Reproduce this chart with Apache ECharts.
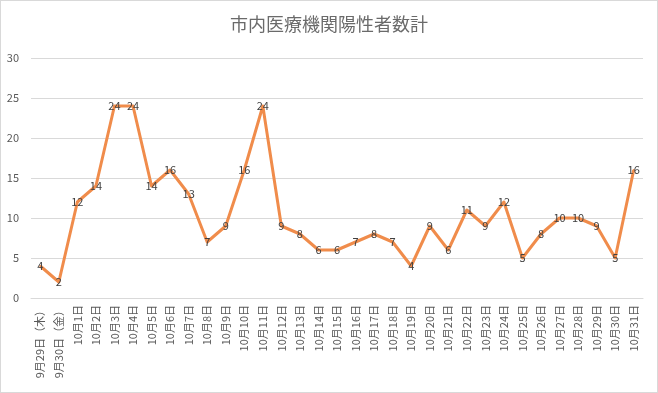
<!DOCTYPE html>
<html>
<head>
<meta charset="utf-8">
<script src="https://cdn.jsdelivr.net/npm/echarts@6/dist/echarts.min.js"></script>
<style>
html,body{margin:0;padding:0;background:#fff;}
#c{width:656px;height:391px;border:1px solid #d9d9d9;}
</style>
</head>
<body>
<div id="c"></div>
<script>
const titleText = '市内医療機関陽性者数計';
const categories = ['9月29日（木）','9月30日（金）','10月1日','10月2日','10月3日','10月4日','10月5日','10月6日','10月7日','10月8日','10月9日','10月10日','10月11日','10月12日','10月13日','10月14日','10月15日','10月16日','10月17日','10月18日','10月19日','10月20日','10月21日','10月22日','10月23日','10月24日','10月25日','10月26日','10月27日','10月28日','10月29日','10月30日','10月31日'];
const values = [4,2,12,14,24,24,14,16,13,7,9,16,24,9,8,6,6,7,8,7,4,9,6,11,9,12,5,8,10,10,9,5,16];
const yTicks = [0,5,10,15,20,25,30];

const chart = echarts.init(document.getElementById('c'));
chart.setOption({
  animation:false,
  textStyle:{fontFamily:'"Noto Sans CJK JP", sans-serif'},
  title:{text:titleText,left:'center',top:9,textStyle:{fontSize:18,fontWeight:'normal',color:'#6a6a6a',fontFamily:'"Noto Sans CJK JP", sans-serif'}},
  grid:{left:30,right:14,top:57,bottom:94,containLabel:false},
  xAxis:{type:'category',data:categories,boundaryGap:true,
    axisLine:{lineStyle:{color:'#d9d9d9'}},axisTick:{show:false},
    axisLabel:{rotate:90,interval:0,fontSize:11,color:'#595959',margin:7}},
  yAxis:{type:'value',min:yTicks[0],max:yTicks[yTicks.length-1],interval:5,
    axisLine:{show:false},axisTick:{show:false},
    axisLabel:{fontSize:11,color:'#595959',margin:12},
    splitLine:{lineStyle:{color:'#d9d9d9'}}},
  series:[{type:'line',data:values,symbol:'circle',symbolSize:2,showSymbol:true,showAllSymbol:true,
    lineStyle:{color:'#F08C4B',width:3,join:'round'},itemStyle:{color:'#F08C4B',borderWidth:0},
    label:{show:true,position:'inside',fontSize:11,color:'#404040'}}]
});
</script>
</body>
</html>
